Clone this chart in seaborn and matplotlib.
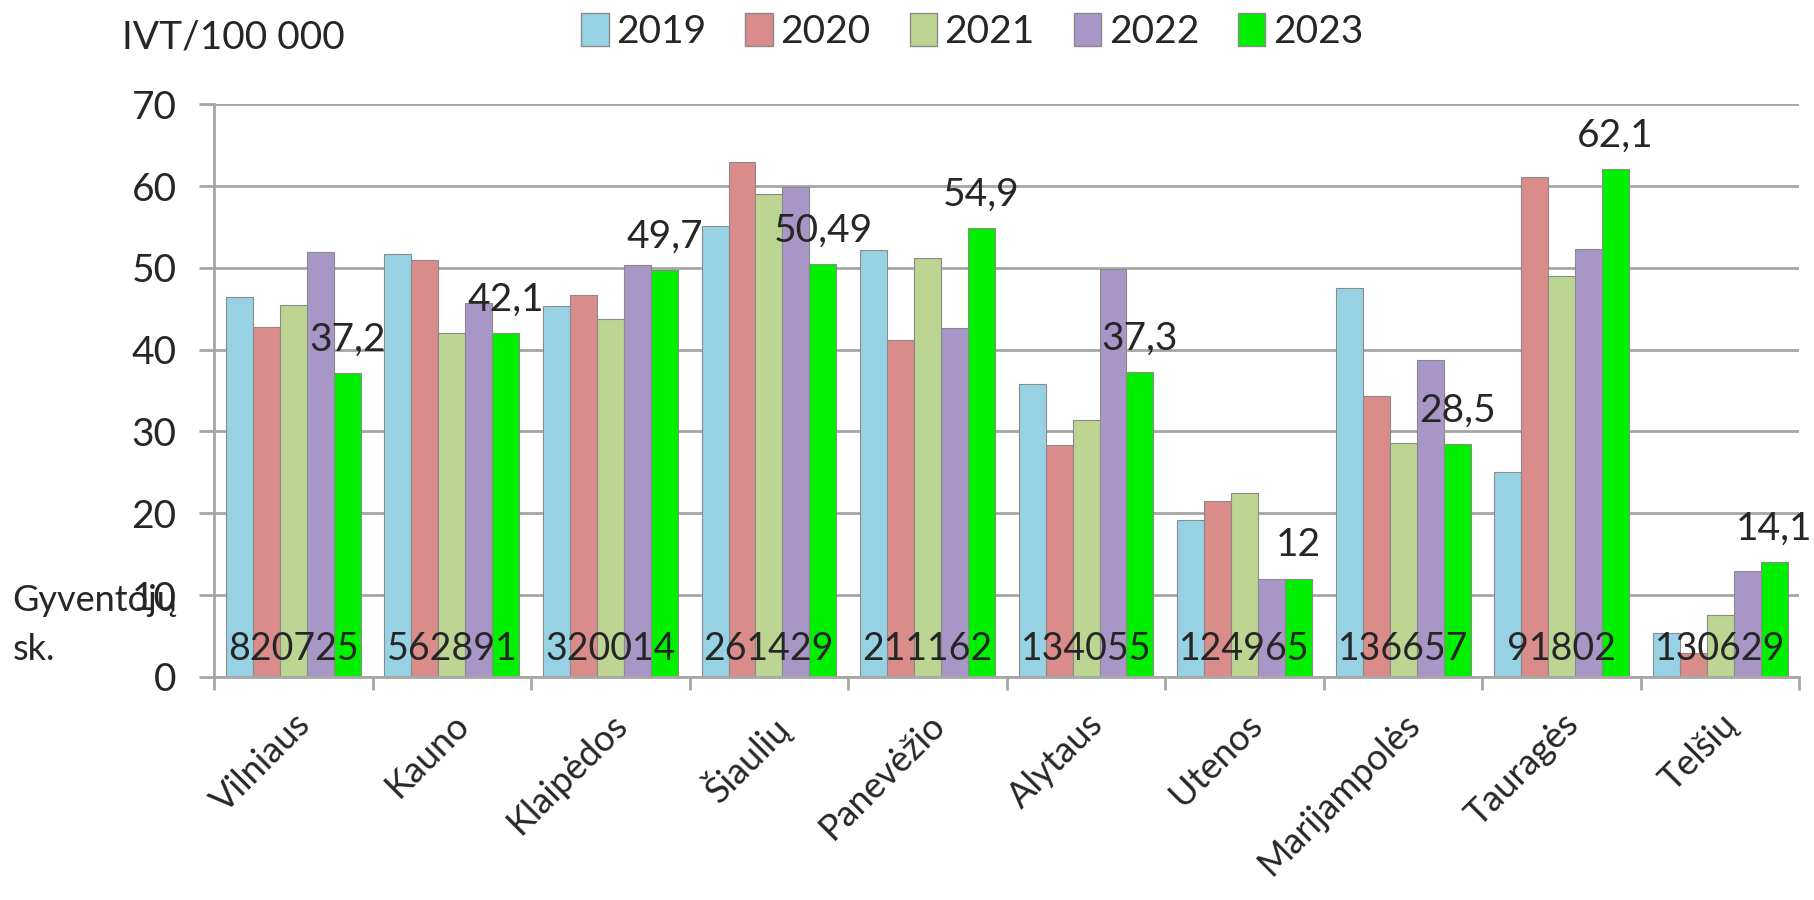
import matplotlib.pyplot as plt
import pandas as pd
import seaborn as sns

regions = ['Vilniaus', 'Kauno', 'Klaipėdos', 'Šiaulių', 'Panevėžio',
           'Alytaus', 'Utenos', 'Marijampolės', 'Tauragės', 'Telšių']
population = ['820725', '562891', '320014', '261429', '211162',
              '134055', '124965', '136657', '91802', '130629']
years = ['2019', '2020', '2021', '2022', '2023']

v2019 = [46.5, 51.7, 45.3, 55.1, 52.2, 35.8, 19.2, 47.6, 25.0, 5.3]
v2020 = [42.8, 51.0, 46.7, 62.9, 41.2, 28.3, 21.5, 34.4, 61.1, 2.9]
v2021 = [45.5, 42.1, 43.8, 59.0, 51.2, 31.4, 22.5, 28.6, 49.0, 7.5]
v2022 = [51.9, 45.7, 50.3, 59.9, 42.6, 49.9, 12.0, 38.8, 52.3, 12.9]
v2023 = [37.2, 42.1, 49.7, 50.49, 54.9, 37.3, 12.0, 28.5, 62.1, 14.1]

colors = ['#97D2E4', '#D98C8A', '#BDD592', '#A897C6', '#00F000']

rows = []
for year, vals in zip(years, [v2019, v2020, v2021, v2022, v2023]):
    for reg, v in zip(regions, vals):
        rows.append({'region': reg, 'year': year, 'value': v})
df = pd.DataFrame(rows)

sns.set_theme(style="whitegrid")
plt.rcParams['font.family'] = ['Lato', 'DejaVu Sans']

fig = plt.figure(figsize=(18.14, 9), dpi=100)
ax = fig.add_axes([0.118, 0.248, 0.874, 0.636])

sns.barplot(
    data=df, x='region', y='value', hue='year',
    palette=dict(zip(years, colors)),
    width=0.85, errorbar=None, ax=ax,
    edgecolor='#8a8a8a', linewidth=0.8, saturation=1,
)

ax.set_ylim(0, 70)
ax.set_xlim(-0.5, len(regions) - 0.5)
ax.set_yticks(range(0, 71, 10))
ax.set_xlabel('')
ax.set_ylabel('')
ax.grid(axis='x', visible=False)
ax.grid(axis='y', color='#a6a6a6', linewidth=2)
ax.set_axisbelow(True)
for side in ['top', 'right']:
    ax.spines[side].set_visible(False)
for side in ['left', 'bottom']:
    ax.spines[side].set_color('#a6a6a6')
    ax.spines[side].set_linewidth(2)

ax.tick_params(axis='y', labelsize=28, length=11, width=2, color='#a6a6a6',
               left=True, pad=16)
# category labels at centres, tick marks between categories
ax.set_xticks(range(len(regions)))
ax.set_xticklabels(regions, rotation=45, ha='right', rotation_mode='anchor',
                   fontsize=26)
ax.tick_params(axis='x', length=0, pad=22)
ax.set_xticks([i - 0.5 for i in range(len(regions) + 1)], minor=True)
ax.tick_params(axis='x', which='minor', length=9.5, width=2, color='#a6a6a6',
               bottom=True)

# 2023 labels above green bars
offset = 0.85 / 5 * 2
for i, v in enumerate(v2023):
    ax.annotate(f"{v:g}".replace('.', ','), (i + offset, v),
                xytext=(0, 16), textcoords='offset points',
                ha='center', va='baseline', fontsize=28)

# population numbers
for i, p in enumerate(population):
    ax.text(i, 3.4, p, ha='center', va='center', fontsize=27)

ax.legend_.remove()
handles = [plt.Rectangle((0, 0), 1, 1, facecolor=c, edgecolor='#8a8a8a')
           for c in colors]
fig.legend(handles, years, loc='center', bbox_to_anchor=(0.536, 0.965),
           ncol=5, frameon=False, fontsize=28, handlelength=0.7,
           handleheight=0.9, handletextpad=0.2, columnspacing=1.0)

fig.text(0.067, 0.958, 'IVT/100 000', ha='left', va='center', fontsize=28)
fig.text(0.007, 0.333, 'Gyventojų', ha='left', va='center', fontsize=26)
fig.text(0.007, 0.278, 'sk.', ha='left', va='center', fontsize=26)

fig.savefig('out.png', dpi=100)
